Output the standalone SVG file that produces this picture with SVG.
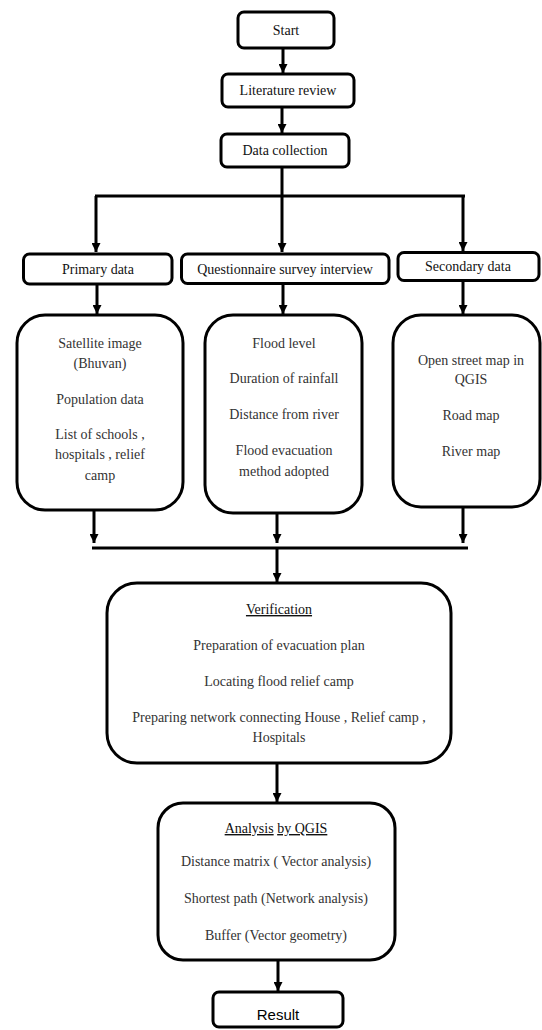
<svg xmlns="http://www.w3.org/2000/svg" width="542" height="1030" viewBox="0 0 542 1030">
<defs>
<marker id="ah" markerUnits="userSpaceOnUse" markerWidth="9" markerHeight="9" refX="9" refY="4.5" orient="auto">
<path d="M0,0 L9,4.5 L0,9 z" fill="#000"/>
</marker>
<style>
.box{fill:#fff;stroke:#000;stroke-width:3}
.t{font-family:"Liberation Serif","Times New Roman",serif;font-size:14px;fill:#111;text-anchor:middle}
.b{fill:#333}
.s{font-family:"Liberation Sans",Arial,sans-serif;font-size:15px;fill:#000;text-anchor:middle}
.c line{stroke:#000;stroke-width:3}
.a{marker-end:url(#ah)}
.u{text-decoration:underline}
</style>
</defs>
<rect width="542" height="1030" fill="#fff"/>
<g class="c" id="connectors">
<line class="a" x1="283" y1="48" x2="283" y2="73"/>
<line class="a" x1="282" y1="107" x2="282" y2="133"/>
<line x1="282" y1="167" x2="282" y2="196"/>
<line x1="95" y1="196" x2="465" y2="196"/>
<line class="a" x1="96" y1="196" x2="96" y2="252"/>
<line class="a" x1="282" y1="196" x2="282" y2="252"/>
<line class="a" x1="463" y1="196" x2="463" y2="251"/>
<line class="a" x1="97" y1="284" x2="97" y2="314"/>
<line class="a" x1="283" y1="283" x2="283" y2="314"/>
<line class="a" x1="463" y1="280" x2="463" y2="314"/>
<line class="a" x1="94" y1="510" x2="94" y2="543"/>
<line class="a" x1="277" y1="513" x2="277" y2="543"/>
<line class="a" x1="463" y1="507" x2="463" y2="543"/>
<line x1="92" y1="548" x2="468" y2="548"/>
<line class="a" x1="277" y1="548" x2="277" y2="582"/>
<line class="a" x1="277" y1="763" x2="277" y2="802"/>
<line class="a" x1="278" y1="960" x2="278" y2="991"/>
</g>
<g id="start"><rect class="box" x="238" y="12" width="96" height="36" rx="6"/><text class="t" x="286" y="35">Start</text></g>
<g id="literature"><rect class="box" x="222" y="74" width="132" height="33" rx="6"/><text class="t" x="288" y="95">Literature review</text></g>
<g id="datacollection"><rect class="box" x="221" y="134" width="128" height="33" rx="6"/><text class="t" x="285" y="155">Data collection</text></g>
<g id="primary"><rect class="box" x="23.5" y="254" width="148.5" height="30" rx="6"/><text class="t" x="98" y="274">Primary data</text></g>
<g id="questionnaire"><rect class="box" x="181.5" y="254" width="207.5" height="29.5" rx="6"/><text class="t" x="285" y="274">Questionnaire survey interview</text></g>
<g id="secondary"><rect class="box" x="398" y="252.5" width="141" height="28" rx="6"/><text class="t" x="468" y="271">Secondary data</text></g>
<g id="primarycontent"><rect class="box" x="17" y="315" width="166" height="195" rx="28"/>
<text class="t b" x="100" y="348">Satellite image</text>
<text class="t b" x="100" y="368">(Bhuvan)</text>
<text class="t b" x="100" y="404">Population data</text>
<text class="t b" x="100" y="439">List of schools ,</text>
<text class="t b" x="100" y="459">hospitals , relief</text>
<text class="t b" x="100" y="480">camp</text></g>
<g id="questioncontent"><rect class="box" x="205" y="315" width="157" height="198" rx="28"/>
<text class="t b" x="284" y="348">Flood level</text>
<text class="t b" x="284" y="383">Duration of rainfall</text>
<text class="t b" x="284" y="419">Distance from river</text>
<text class="t b" x="284" y="455">Flood evacuation</text>
<text class="t b" x="284" y="476">method adopted</text></g>
<g id="secondarycontent"><rect class="box" x="393" y="315" width="147" height="192" rx="28"/>
<text class="t b" x="471" y="365">Open street map in</text>
<text class="t b" x="471" y="384">QGIS</text>
<text class="t b" x="471" y="420">Road map</text>
<text class="t b" x="471" y="456">River map</text></g>
<g id="verification"><rect class="box" x="107" y="583" width="344" height="180" rx="30"/>
<text class="t" x="279" y="614"><tspan class="u">Verification</tspan></text>
<text class="t b" x="279" y="650">Preparation of evacuation plan</text>
<text class="t b" x="279" y="686">Locating flood relief camp</text>
<text class="t b" x="279" y="722">Preparing network connecting House , Relief camp ,</text>
<text class="t b" x="279" y="742">Hospitals</text></g>
<g id="analysis"><rect class="box" x="158" y="803" width="237" height="157" rx="25"/>
<text class="t" x="276" y="833"><tspan class="u">Analysis</tspan> <tspan class="u">by QGIS</tspan></text>
<text class="t b" x="276" y="866">Distance matrix ( Vector analysis)</text>
<text class="t b" x="276" y="903">Shortest path (Network analysis)</text>
<text class="t b" x="276" y="940">Buffer (Vector geometry)</text></g>
<g id="result"><rect class="box" x="213" y="992" width="130" height="35" rx="6"/><text class="s" x="278" y="1020">Result</text></g>
</svg>
